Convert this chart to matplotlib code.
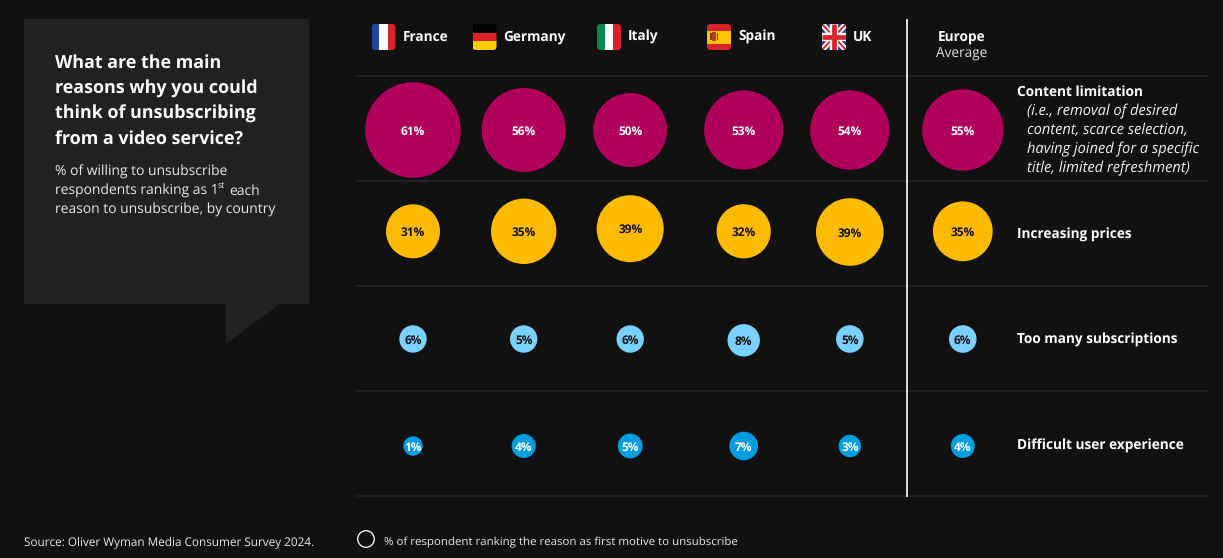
import matplotlib
matplotlib.use("Agg")
import matplotlib.pyplot as plt
from matplotlib.patches import Rectangle, FancyBboxPatch, Polygon

# ---------- data ----------
countries = ["France", "Germany", "Italy", "Spain", "UK"]
reasons = ["Content limitation", "Increasing prices", "Too many subscriptions", "Difficult user experience"]
content_limitation = [61, 56, 50, 53, 54, 55]
increasing_prices = [31, 35, 39, 32, 39, 35]
too_many_subscriptions = [6, 5, 6, 8, 5, 6]
difficult_experience = [1, 4, 5, 7, 3, 4]
series = [content_limitation, increasing_prices, too_many_subscriptions, difficult_experience]

title_lines = ["What are the main", "reasons why you could", "think of unsubscribing", "from a video service?"]
content_note = ["(i.e., removal of desired", "content, scarce selection,",
                "having joined for a specific", "title, limited refreshment)"]

# ---------- layout and style (pixels of the 1223x558 picture) ----------
BG, PANEL, GRID = "#111111", "#212121", "#242424"
FONT = "Open Sans"
col_x = [413, 523.7, 630.2, 743.7, 849.8, 962.8]
row_y = [130, 231.3, 339, 446]
bubble_r = [[47.8, 42.1, 37, 39.6, 39.7, 40.7],
            [27, 32.7, 33.5, 27.1, 33.8, 29.9],
            [13.7, 13.7, 13.7, 16.2, 13.8, 13.8],
            [9.7, 12, 12.4, 14.3, 11.2, 12]]
row_dy = [[0] * 6, [0, 0, -2.6, 0, 0.7, 0], [0, 0, 0, 1.3, 0, 0], [0] * 6]
row_color = ["#B0005C", "#FFBB00", "#7AD0FF", "#009DE0"]
label_color = ["white", "#111111", "#111111", "white"]
grid_y = [75.5, 180.7, 286, 391, 496.3]
flag_x = [371.5, 472.5, 597, 707, 822]
name_x = [402.5, 503, 628, 738, 853]

plt.rcParams["font.family"] = [FONT, "DejaVu Sans"]
plt.rcParams["text.hinting"] = "none"
DPI = 100
fig = plt.figure(figsize=(12.23, 5.58), dpi=DPI, facecolor=BG)
ax = fig.add_axes([0, 0, 1, 1])
ax.set_xlim(0, 1223)
ax.set_ylim(558, 0)
ax.axis("off")


def label(x, y, s, size=10, weight="normal", color="white", ha="left", style="normal", va="center"):
    ax.text(x, y, s, fontsize=size, fontweight=weight, color=color, ha=ha, va=va, style=style)


# callout panel
ax.add_patch(Rectangle((24, 19), 285, 285, fc=PANEL, ec="none"))
ax.add_patch(Polygon([(226, 303), (226, 344), (281, 303)], fc=PANEL, ec="none"))
for i, line in enumerate(title_lines):
    label(55, 67.5 + i * 25.8, line, size=12.9, weight="bold", va="baseline")
label(55, 172, "% of willing to unsubscribe", size=10, color="#E8E8E8")
label(55, 191, "respondents ranking as 1", size=10, color="#E8E8E8")
label(218, 186.5, "st", size=6.3, color="#E8E8E8")
label(229, 191, "each", size=10, color="#E8E8E8")
label(55, 210, "reason to unsubscribe, by country", size=10, color="#E8E8E8")

# grid
for y in grid_y:
    ax.plot([356, 1208], [y, y], color=GRID, lw=1.1, solid_capstyle="butt", zorder=1)
ax.plot([906.5, 906.5], [19, 497], color="white", lw=1.2, solid_capstyle="butt", zorder=2)


# flags
def flag_clip(x):
    p = FancyBboxPatch((x + 3, 27), 18, 20, boxstyle="round,pad=3,rounding_size=3.5",
                       fc="none", ec="none")
    ax.add_patch(p)
    return p


def bands(x, colors, vertical):
    clip = flag_clip(x)
    for c, f0, f1 in colors:
        if vertical:
            r = Rectangle((x + 24 * f0, 24), 24 * (f1 - f0) + 0.2, 26, fc=c, ec="none", zorder=3)
        else:
            r = Rectangle((x, 24 + 26 * f0), 24, 26 * (f1 - f0) + 0.2, fc=c, ec="none", zorder=3)
        ax.add_patch(r)
        r.set_clip_path(clip)
    return clip


bands(flag_x[0], [("#1E4A9C", 0, .33), ("white", .33, .67), ("#D9222A", .67, 1)], True)
bands(flag_x[1], [("#000000", 0, .33), ("#D9222A", .33, .67), ("#FFCC00", .67, 1)], False)
bands(flag_x[2], [("#078A4A", 0, .33), ("white", .33, .67), ("#D9222A", .67, 1)], True)
bands(flag_x[3], [("#D9222A", 0, .25), ("#FFC400", .25, .75), ("#D9222A", .75, 1)], False)
sx = flag_x[3]
ax.add_patch(Rectangle((sx + 2.5, 33), 2, 7, fc="#7A3A1E", ec="none", zorder=4))
ax.add_patch(Rectangle((sx + 5, 31.5), 4, 9.5, fc="#B5401B", ec="none", zorder=4))
ax.add_patch(Rectangle((sx + 9.5, 33), 1.5, 7, fc="#7A3A1E", ec="none", zorder=4))

ux = flag_x[4]
uclip = bands(ux, [("#1F3C88", 0, 1)], True)
for (a, b, c, w) in [((ux, 24), (ux + 24, 50), "white", 4.2), ((ux, 50), (ux + 24, 24), "white", 4.2),
                     ((ux, 24), (ux + 24, 50), "#D9222A", 1.4), ((ux, 50), (ux + 24, 24), "#D9222A", 1.4),
                     ((ux + 12, 24), (ux + 12, 50), "white", 6), ((ux, 37), (ux + 24, 37), "white", 6),
                     ((ux + 12, 24), (ux + 12, 50), "#D9222A", 3.4), ((ux, 37), (ux + 24, 37), "#D9222A", 3.4)]:
    ln, = ax.plot([a[0], b[0]], [a[1], b[1]], color=c, lw=w, zorder=4, solid_capstyle="butt")
    ln.set_clip_path(uclip)

for name, x in zip(countries, name_x):
    label(x, 41, name, size=9.8, weight="bold", va="baseline")
label(961.5, 37.5, "Europe", size=9.8, weight="bold", ha="center")
label(961.5, 53, "Average", size=9.8, color="#E0E0E0", ha="center")

# bubbles
for values, y0, radii, dys, color, lc in zip(series, row_y, bubble_r, row_dy, row_color, label_color):
    ys = [y0 + d for d in dys]
    sizes = [(2 * r * 72 / DPI) ** 2 for r in radii]
    ax.scatter(col_x, ys, s=sizes, color=color, linewidths=0, zorder=5)
    for x, y, v in zip(col_x, ys, values):
        label(x, y + 1.5, f"{v}%", size=8.6, weight="bold", color=lc, ha="center")
        ax.texts[-1].set_zorder(6)

# row labels
label(1017, 92, reasons[0], size=9.8, weight="bold")
for i, line in enumerate(content_note):
    label(1027, 111 + i * 19, line, size=10.5, style="italic", color="#F0F0F0")
for name, y in zip(reasons[1:], [235, 340, 446]):
    label(1017, y, name, size=9.8, weight="bold")

# footer
label(24, 542.5, "Source: Oliver Wyman Media Consumer Survey 2024.", size=8.45, color="#E8E8E8")
ax.scatter([366], [539], s=(2 * 8.3 * 72 / DPI) ** 2, facecolors="none", edgecolors="white", linewidths=0.9)
label(384, 542.5, "% of respondent ranking the reason as first motive to unsubscribe", size=8.27, color="#E8E8E8")

fig.savefig("out.png", dpi=DPI, facecolor=BG)
